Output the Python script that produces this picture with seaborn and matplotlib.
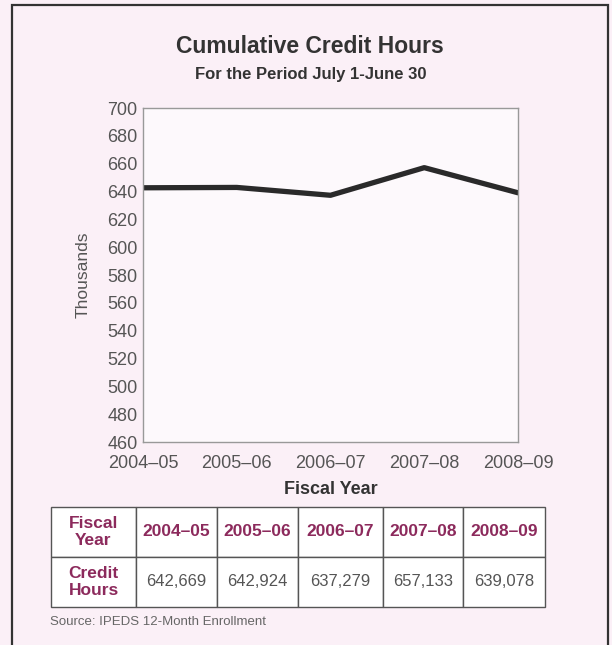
import matplotlib.pyplot as plt
import matplotlib.patches as patches
import seaborn as sns
import pandas as pd

years = ['2004–05', '2005–06', '2006–07', '2007–08', '2008–09']
credit_hours = [642669, 642924, 637279, 657133, 639078]
y_ticks = list(range(460, 701, 20))

bg = '#fbf0f7'
maroon = '#8c2a5c'
gray = '#555555'

sns.set_theme(style='white')
plt.rcParams['font.family'] = ['Liberation Sans', 'DejaVu Sans']

df = pd.DataFrame({'Year': years, 'Thousands': [v / 1000 for v in credit_hours]})

fig = plt.figure(figsize=(6.12, 6.45), dpi=100, facecolor=bg)

# outer frame
fig.patches.append(patches.Rectangle((12 / 612, -0.02), 596 / 612, 1 - 5 / 645 + 0.02,
                                     transform=fig.transFigure, fill=False,
                                     edgecolor='#333333', linewidth=1.6))

fig.text(0.507, 0.928, 'Cumulative Credit Hours', ha='center', va='center',
         fontsize=16.5, fontweight='bold', color='#333333')
fig.text(0.507, 0.884, 'For the Period July 1-June 30', ha='center', va='center',
         fontsize=12, fontweight='bold', color='#333333')

ax = fig.add_axes([143 / 612, (645 - 442) / 645, (518 - 143) / 612, (442 - 108) / 645])
ax.set_facecolor('#fdf9fc')
sns.lineplot(data=df, x='Year', y='Thousands', ax=ax, color='#2a2a2a', linewidth=3.8)
ax.set_xlim(0, 4)
ax.set_ylim(460, 700)
ax.set_yticks(y_ticks)
ax.set_xticks(range(len(years)))
ax.set_xticklabels(years)
ax.tick_params(axis='both', labelsize=13, colors=gray, length=0, pad=4)
ax.tick_params(axis='x', pad=9)
for s in ax.spines.values():
    s.set_color('#999999')
    s.set_linewidth(1.0)
ax.set_xlabel('Fiscal Year', fontsize=13, fontweight='bold', color='#333333', labelpad=7)
ax.set_ylabel('Thousands', fontsize=12.5, color=gray, labelpad=12)

# data table
tax = fig.add_axes([51 / 612, (645 - 607) / 645, (545 - 51) / 612, 100 / 645])
tax.axis('off')
col_w = [85, 81, 81, 85, 80, 82]
total = sum(col_w)
cells = [['Fiscal\nYear'] + years,
         ['Credit\nHours'] + [f'{v:,}' for v in credit_hours]]
tbl = tax.table(cellText=cells, bbox=[0, 0, 1, 1], cellLoc='center',
                colWidths=[w / total for w in col_w])
tbl.auto_set_font_size(False)
for (r, c), cell in tbl.get_celld().items():
    cell.set_edgecolor('#555555')
    cell.set_linewidth(1.0)
    cell.set_facecolor('white')
    txt = cell.get_text()
    if r == 0 or c == 0:
        txt.set_color(maroon)
        txt.set_fontweight('bold')
        txt.set_fontsize(12.5)
    else:
        txt.set_color(gray)
        txt.set_fontsize(12)
    txt.set_linespacing(1.15)

fig.text(50 / 612, (645 - 622) / 645, 'Source: IPEDS 12-Month Enrollment',
         ha='left', va='center', fontsize=9.5, color='#666666')

fig.savefig('out.png', dpi=100, facecolor=bg)
